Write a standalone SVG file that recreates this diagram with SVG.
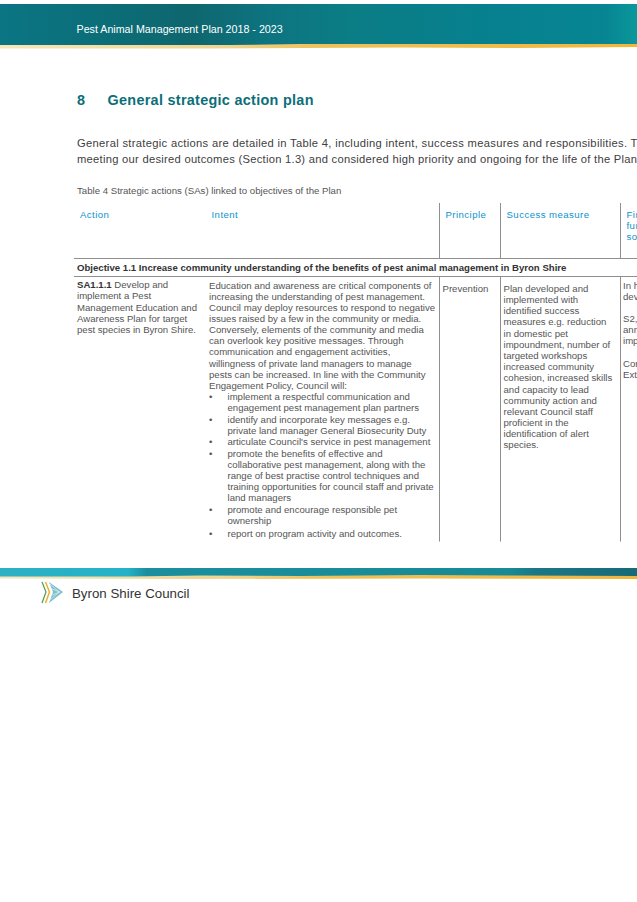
<svg xmlns="http://www.w3.org/2000/svg" width="637" height="902" viewBox="0 0 637 902">
<style>
text{font-family:"Liberation Sans",Arial,sans-serif;fill:#555;font-size:9.6px}
.h{fill:#0a93cd;font-size:9.6px;letter-spacing:.45px}
.b{font-weight:bold;fill:#333}
.rule{stroke:#8f8f8f;stroke-width:1;fill:none}
</style>
<defs>
<linearGradient id="top" x1="0" x2="1" y1="0" y2="0">
<stop offset="0" stop-color="#0b7583"/><stop offset=".14" stop-color="#0b6f7a"/><stop offset=".3" stop-color="#0e666e"/><stop offset=".42" stop-color="#0d7480"/><stop offset=".55" stop-color="#0b7d85"/><stop offset=".75" stop-color="#07808e"/><stop offset=".95" stop-color="#078592"/><stop offset="1" stop-color="#0a989b"/>
</linearGradient>
<linearGradient id="bot" x1="0" x2="1" y1="0" y2="0">
<stop offset="0" stop-color="#2cb0c4"/><stop offset=".2" stop-color="#25b2c8"/><stop offset=".23" stop-color="#1b8f9e"/><stop offset=".8" stop-color="#178a96"/><stop offset=".84" stop-color="#1a7786"/><stop offset="1" stop-color="#176a78"/>
</linearGradient>
<linearGradient id="gold" x1="0" x2="1" y1="0" y2="0">
<stop offset="0" stop-color="#f6e6bb"/><stop offset=".35" stop-color="#f0d48f"/><stop offset=".5" stop-color="#eec15a"/><stop offset="1" stop-color="#f0b63c"/>
</linearGradient>
</defs>
<g id="header-banner">
<rect x="0" y="4" width="637" height="41" fill="url(#top)"/>
<path d="M0 45H230L300 44H637V47L520 48 400 47.500 200 48.500H0Z" fill="url(#gold)"/>
<text x="76.500" y="33" style="font-size:10.700px;fill:#fff">Pest Animal Management Plan 2018 - 2023</text>
</g>
<g id="heading">
<text x="77" y="105" style="font-size:14.400px;fill:#0b6f78;font-weight:bold;letter-spacing:.3px">8</text>
<text x="107.500" y="105" style="font-size:14.400px;fill:#0b6f78;font-weight:bold;letter-spacing:.3px">General strategic action plan</text>
</g>
<g id="intro">
<text x="77" y="147" style="font-size:11.200px;letter-spacing:.31px;fill:#404040">General strategic actions are detailed in Table 4, including intent, success measures and responsibilities. T</text>
<text x="77" y="163" style="font-size:11.200px;letter-spacing:.27px;fill:#404040">meeting our desired outcomes (Section 1.3) and considered high priority and ongoing for the life of the Plan</text>
</g>
<text id="caption" x="77" y="194" style="font-size:9.650px">Table 4 Strategic actions (SAs) linked to objectives of the Plan</text>
<g id="connectors">
<path class="rule" d="M74 258.500H637M74 276.500H637"/>
<path class="rule" d="M439.500 203V258M500.500 203V258M620.500 203V258M439.500 277V541.500M500.500 277V541.500M620.500 277V541.500"/>
</g>
<g id="table-header">
<text class="h" x="80" y="218">Action</text>
<text class="h" x="211.500" y="218">Intent</text>
<text class="h" x="445.500" y="218">Principle</text>
<text class="h" x="506.500" y="218">Success measure</text>
<text class="h" x="626.500" y="218">Fir</text>
<text class="h" x="626.500" y="229">fur</text>
<text class="h" x="626.500" y="240">so</text>
</g>
<text id="objective" class="b" x="77" y="271" style="font-size:9.600px">Objective 1.1 Increase community understanding of the benefits of pest animal management in Byron Shire</text>
<g id="col-action">
<text x="77" y="288"><tspan class="b">SA1.1.1</tspan> Develop and</text>
<text x="77" y="299">implement a Pest</text>
<text x="77" y="310.500">Management Education and</text>
<text x="77" y="321.500">Awareness Plan for target</text>
<text x="77" y="332.500">pest species in Byron Shire.</text>
</g>
<g id="col-intent">
<text x="209" y="288.500">Education and awareness are critical components of</text>
<text x="209" y="299.500">increasing the understanding of pest management.</text>
<text x="209" y="311">Council may deploy resources to respond to negative</text>
<text x="209" y="322">issues raised by a few in the community or media.</text>
<text x="209" y="333">Conversely, elements of the community and media</text>
<text x="209" y="344">can overlook key positive messages. Through</text>
<text x="209" y="355">communication and engagement activities,</text>
<text x="209" y="366.500">willingness of private land managers to manage</text>
<text x="209" y="377.500">pests can be increased. In line with the Community</text>
<text x="209" y="388.500">Engagement Policy, Council will:</text>
<text x="209" y="400">•</text><text x="227.500" y="400">implement a respectful communication and</text>
<text x="227.500" y="411">engagement pest management plan partners</text>
<text x="209" y="422.500">•</text><text x="227.500" y="422.500">identify and incorporate key messages e.g.</text>
<text x="227.500" y="433.500">private land manager General Biosecurity Duty</text>
<text x="209" y="445">•</text><text x="227.500" y="445">articulate Council's service in pest management</text>
<text x="209" y="456.500">•</text><text x="227.500" y="456.500">promote the benefits of effective and</text>
<text x="227.500" y="467.500">collaborative pest management, along with the</text>
<text x="227.500" y="478.500">range of best practise control techniques and</text>
<text x="227.500" y="490">training opportunities for council staff and private</text>
<text x="227.500" y="501">land managers</text>
<text x="209" y="512.500">•</text><text x="227.500" y="512.500">promote and encourage responsible pet</text>
<text x="227.500" y="523.500">ownership</text>
<text x="209" y="536.500">•</text><text x="227.500" y="536.500">report on program activity and outcomes.</text>
</g>
<text id="col-principle" x="442.500" y="291.500">Prevention</text>
<g id="col-success">
<text x="503.500" y="291.500">Plan developed and</text>
<text x="503.500" y="303">implemented with</text>
<text x="503.500" y="314">identified success</text>
<text x="503.500" y="325">measures e.g. reduction</text>
<text x="503.500" y="336.500">in domestic pet</text>
<text x="503.500" y="347.500">impoundment, number of</text>
<text x="503.500" y="359">targeted workshops</text>
<text x="503.500" y="370">increased community</text>
<text x="503.500" y="381">cohesion, increased skills</text>
<text x="503.500" y="392.500">and capacity to lead</text>
<text x="503.500" y="403.500">community action and</text>
<text x="503.500" y="414.500">relevant Council staff</text>
<text x="503.500" y="425.500">proficient in the</text>
<text x="503.500" y="437">identification of alert</text>
<text x="503.500" y="448">species.</text>
</g>
<g id="col-funding">
<text x="623" y="288.500">In h</text>
<text x="623" y="299.500">dev</text>
<text x="623" y="322">S2,</text>
<text x="623" y="333">ann</text>
<text x="623" y="344">imp</text>
<text x="623" y="366.500">Cor</text>
<text x="623" y="377.500">Ext</text>
</g>
<g id="footer-banner">
<rect x="0" y="568" width="637" height="9" fill="url(#bot)"/>
<path d="M0 576.500H130L200 575.500 300 576 420 575 520 575.500 637 576V579L420 578.500 200 579 0 578.500Z" fill="url(#gold)"/>
</g>
<g id="logo">
<path d="M42 582L46 592 42 603" fill="none" stroke="#4c9b57" stroke-width="1.200"/>
<path d="M45.500 582L49.500 592 45.500 603" fill="none" stroke="#e9b030" stroke-width="1.500"/>
<path d="M49 582L63 592 49 603 53 592Z" fill="#7cc0cd"/>
<path d="M50 584L59 592M52 589L60 592M52 595L60 592M50 600L59 592" fill="none" stroke="#e2f2f5" stroke-width=".7"/>
<text x="72" y="598" style="font-size:13.300px;fill:#333">Byron Shire Council</text>
</g>
</svg>
